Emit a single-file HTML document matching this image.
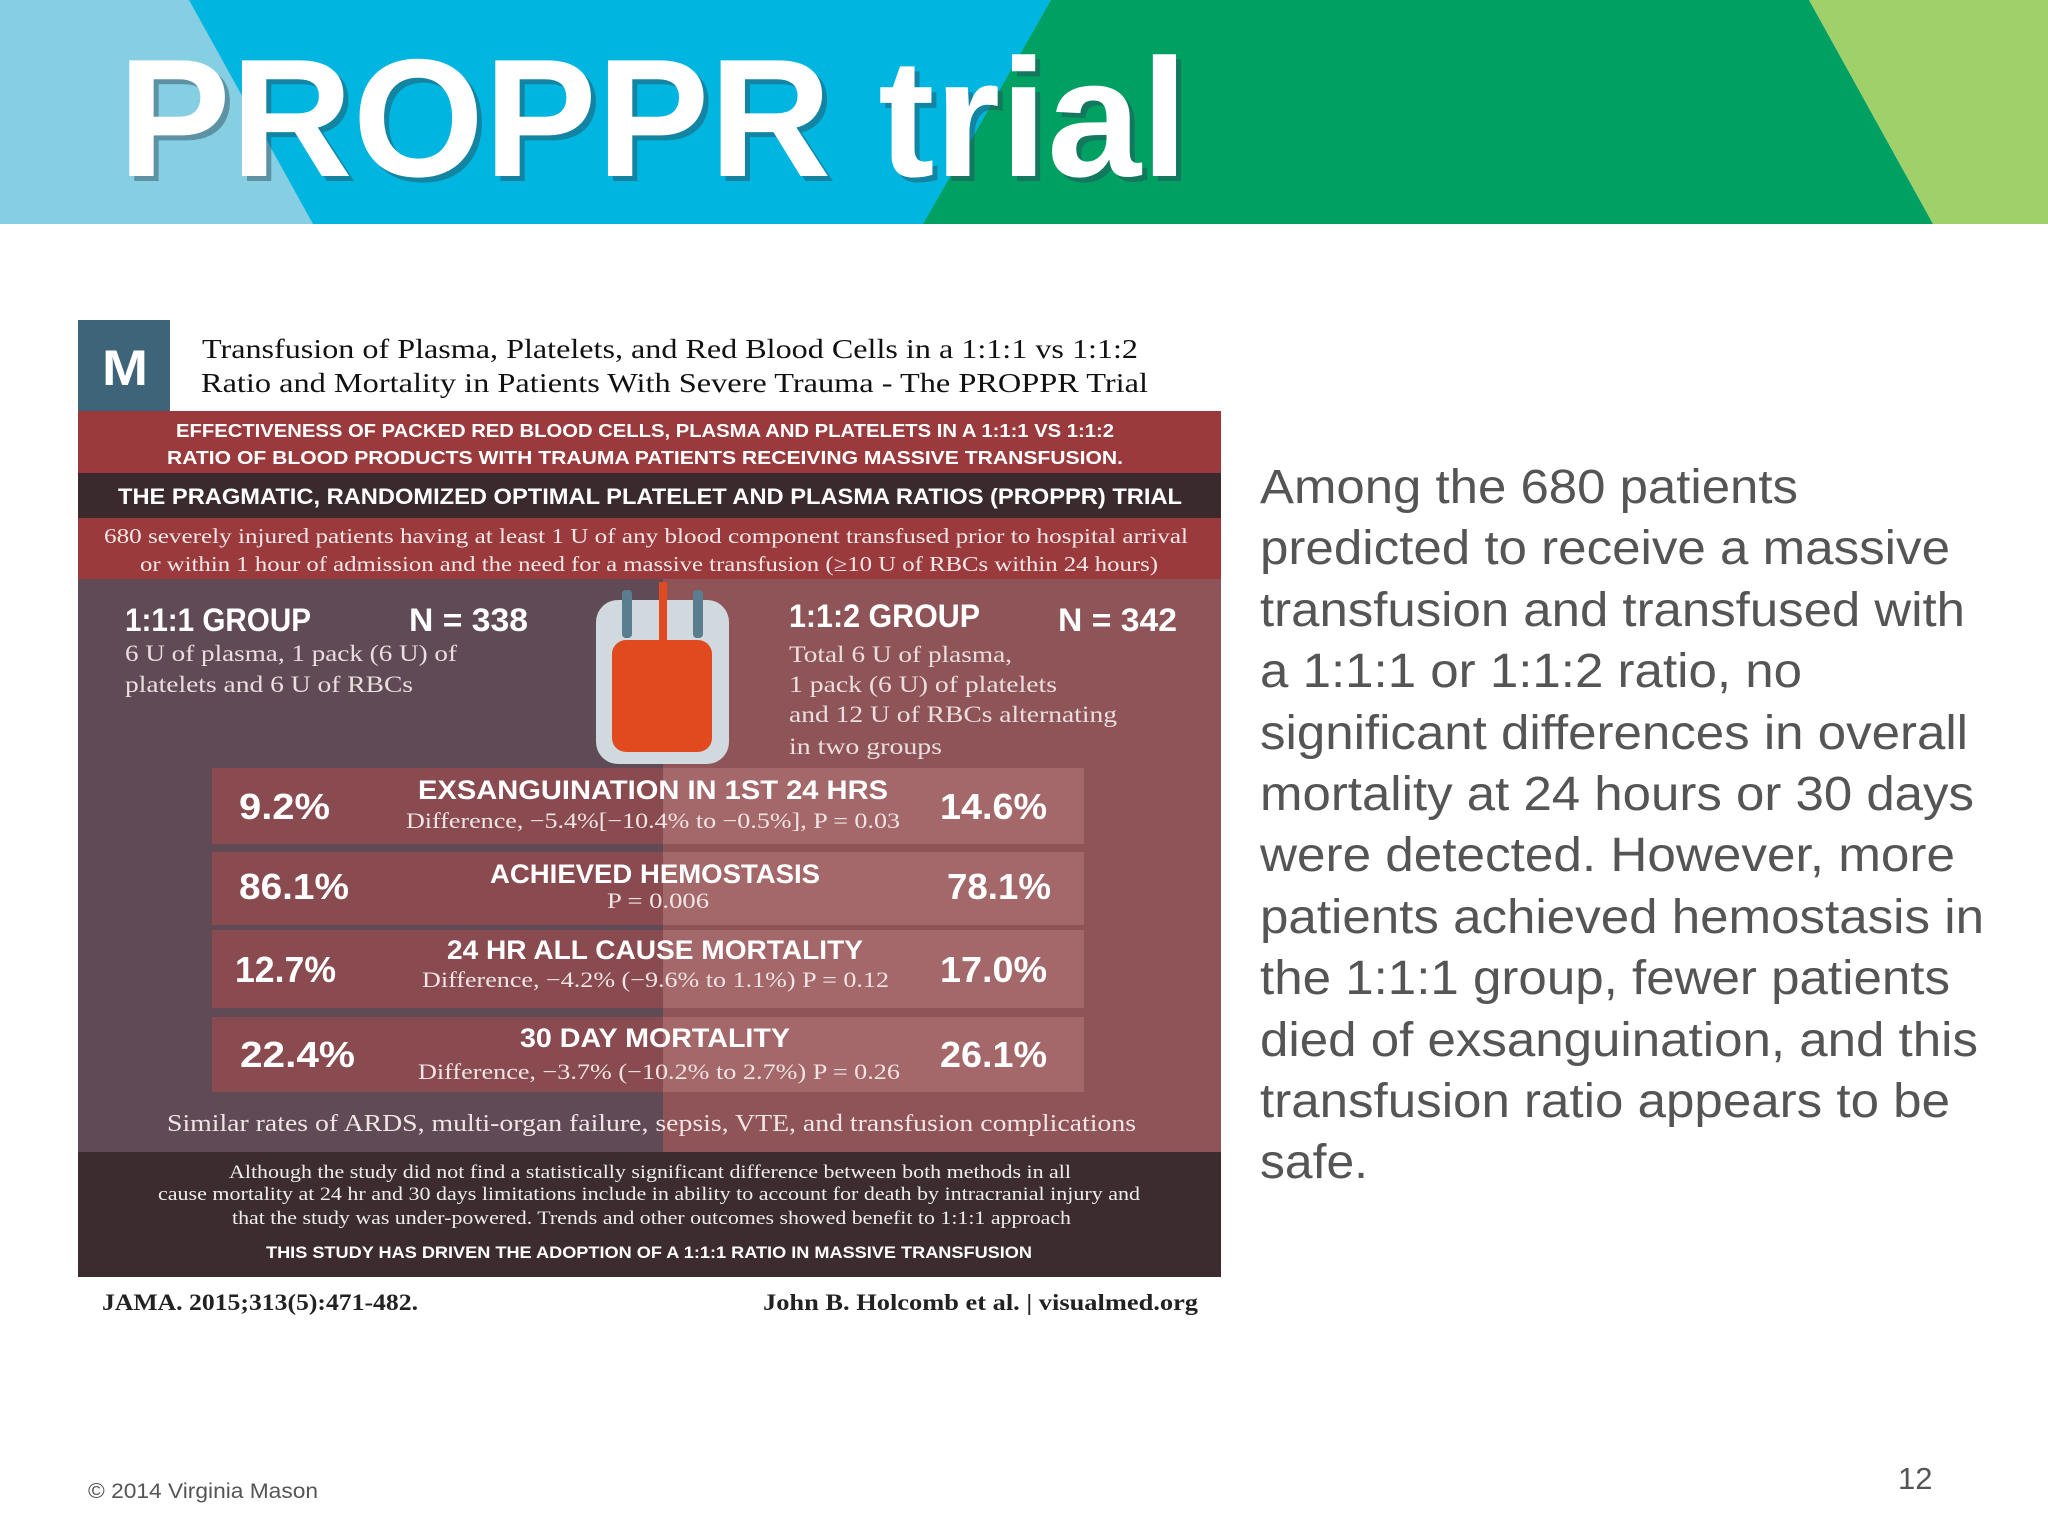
<!DOCTYPE html>
<html><head><meta charset="utf-8"><style>
html,body{margin:0;padding:0;background:#fff;}
svg{display:block;}
.serif{font-family:"Liberation Serif",serif;}
.sans{font-family:"Liberation Sans",sans-serif;}
</style></head><body>
<svg width="2048" height="1536" viewBox="0 0 2048 1536" xmlns="http://www.w3.org/2000/svg">
<g>
<rect x="0" y="0" width="2048" height="224" fill="#86cfe3"/>
<polygon points="189,0 1051,0 923,224 313,224" fill="#00b6e0"/>
<polygon points="1051,0 1809,0 1933,224 923,224" fill="#00a063"/>
<polygon points="1809,0 2048,0 2048,224 1933,224" fill="#a0d06a"/>
</g>
<text x="123" y="181" class="sans" font-weight="bold" font-size="168" fill="#2a4a5a" opacity="0.45" textLength="1070" lengthAdjust="spacingAndGlyphs">PROPPR trial</text>
<text x="118" y="176" class="sans" font-weight="bold" font-size="168" fill="#fff" textLength="1070" lengthAdjust="spacingAndGlyphs">PROPPR trial</text>

<g>
<rect x="78" y="320" width="92" height="91" fill="#3d6478"/>
<text x="102" y="385" class="sans" font-weight="bold" font-size="50" fill="#fff" textLength="46" lengthAdjust="spacingAndGlyphs">M</text>
<g class="serif" font-size="27" fill="#111">
<text x="202" y="358" textLength="936" lengthAdjust="spacingAndGlyphs">Transfusion of Plasma, Platelets, and Red Blood Cells in a 1:1:1 vs 1:1:2</text>
<text x="201" y="392" textLength="947" lengthAdjust="spacingAndGlyphs">Ratio and Mortality in Patients With Severe Trauma - The PROPPR Trial</text>
</g>
<rect x="78" y="411" width="1143" height="62" fill="#9a3a3c"/>
<rect x="78" y="473" width="1143" height="45" fill="#3a2a2e"/>
<rect x="78" y="518" width="1143" height="61" fill="#9a3a3c"/>
<rect x="78" y="579" width="585" height="573" fill="#5f4a56"/>
<rect x="663" y="579" width="558" height="573" fill="#8f5458"/>
<rect x="78" y="1152" width="1143" height="125" fill="#3c2b2f"/>
<g class="sans" font-weight="bold" fill="#fff">
<text x="176" y="437" font-size="18" textLength="938" lengthAdjust="spacingAndGlyphs">EFFECTIVENESS OF PACKED RED BLOOD CELLS, PLASMA AND PLATELETS IN A 1:1:1 VS 1:1:2</text>
<text x="167" y="464" font-size="18" textLength="956" lengthAdjust="spacingAndGlyphs">RATIO OF BLOOD PRODUCTS WITH TRAUMA PATIENTS RECEIVING MASSIVE TRANSFUSION.</text>
<text x="118" y="504" font-size="22" textLength="1064" lengthAdjust="spacingAndGlyphs">THE PRAGMATIC, RANDOMIZED OPTIMAL PLATELET AND PLASMA RATIOS (PROPPR) TRIAL</text>
</g>
<g class="serif" font-size="21" fill="#f3e6e6">
<text x="104" y="543" textLength="1084" lengthAdjust="spacingAndGlyphs">680 severely injured patients  having at least 1 U of any blood component transfused prior to hospital arrival</text>
<text x="140" y="571" textLength="1018" lengthAdjust="spacingAndGlyphs">or within 1 hour of admission and the need for a massive transfusion (≥10 U of RBCs within 24 hours)</text>
</g>
<g>
<rect x="596" y="600" width="133" height="164" rx="22" fill="#cfd9de"/>
<rect x="612" y="640" width="100" height="112" rx="14" fill="#e04a1e"/>
<rect x="659" y="582" width="8" height="120" fill="#e04a1e"/>
<rect x="622" y="590" width="10" height="48" rx="4" fill="#5a7d8f"/>
<rect x="693" y="590" width="10" height="48" rx="4" fill="#5a7d8f"/>
</g>
<g class="sans" font-weight="bold" font-size="32" fill="#fff">
<text x="125" y="631" textLength="186" lengthAdjust="spacingAndGlyphs">1:1:1 GROUP</text>
<text x="409" y="631" textLength="119" lengthAdjust="spacingAndGlyphs">N = 338</text>
<text x="789" y="627" textLength="191" lengthAdjust="spacingAndGlyphs">1:1:2 GROUP</text>
<text x="1058" y="631" textLength="119" lengthAdjust="spacingAndGlyphs">N = 342</text>
</g>
<g class="serif" font-size="23" fill="#eadede">
<text x="125" y="661" textLength="332" lengthAdjust="spacingAndGlyphs">6 U of plasma, 1 pack (6 U) of</text>
<text x="125" y="692" textLength="288" lengthAdjust="spacingAndGlyphs">platelets and 6 U of RBCs</text>
<text x="789" y="662" textLength="223" lengthAdjust="spacingAndGlyphs">Total 6 U of plasma,</text>
<text x="789" y="692" textLength="268" lengthAdjust="spacingAndGlyphs">1 pack (6 U) of platelets</text>
<text x="789" y="722" textLength="328" lengthAdjust="spacingAndGlyphs">and 12 U of RBCs alternating</text>
<text x="789" y="754" textLength="153" lengthAdjust="spacingAndGlyphs">in two groups</text>
</g>
<g>
<rect x="212" y="768" width="451" height="76" fill="#8a4b50"/><rect x="663" y="768" width="421" height="76" fill="#a4686a"/>
<rect x="212" y="852" width="451" height="73" fill="#8a4b50"/><rect x="663" y="852" width="421" height="73" fill="#a4686a"/>
<rect x="212" y="930" width="451" height="78" fill="#8a4b50"/><rect x="663" y="930" width="421" height="78" fill="#a4686a"/>
<rect x="212" y="1017" width="451" height="75" fill="#8a4b50"/><rect x="663" y="1017" width="421" height="75" fill="#a4686a"/>
</g>
<g class="sans" font-weight="bold" font-size="36" fill="#fff">
<text x="239" y="819" textLength="91" lengthAdjust="spacingAndGlyphs">9.2%</text>
<text x="940" y="819" textLength="107" lengthAdjust="spacingAndGlyphs">14.6%</text>
<text x="239" y="899" textLength="110" lengthAdjust="spacingAndGlyphs">86.1%</text>
<text x="947" y="899" textLength="104" lengthAdjust="spacingAndGlyphs">78.1%</text>
<text x="235" y="982" textLength="101" lengthAdjust="spacingAndGlyphs">12.7%</text>
<text x="940" y="982" textLength="107" lengthAdjust="spacingAndGlyphs">17.0%</text>
<text x="240" y="1067" textLength="115" lengthAdjust="spacingAndGlyphs">22.4%</text>
<text x="940" y="1067" textLength="107" lengthAdjust="spacingAndGlyphs">26.1%</text>
</g>
<g class="sans" font-weight="bold" font-size="27" fill="#fff">
<text x="418" y="799" textLength="470" lengthAdjust="spacingAndGlyphs">EXSANGUINATION IN 1ST 24 HRS</text>
<text x="490" y="883" textLength="330" lengthAdjust="spacingAndGlyphs">ACHIEVED HEMOSTASIS</text>
<text x="447" y="959" textLength="416" lengthAdjust="spacingAndGlyphs">24 HR ALL CAUSE MORTALITY</text>
<text x="520" y="1047" textLength="270" lengthAdjust="spacingAndGlyphs">30 DAY MORTALITY</text>
</g>
<g class="serif" font-size="22" fill="#f0e4e4">
<text x="406" y="828" textLength="494" lengthAdjust="spacingAndGlyphs">Difference, −5.4%[−10.4% to −0.5%], P = 0.03</text>
<text x="607" y="908" textLength="102" lengthAdjust="spacingAndGlyphs">P = 0.006</text>
<text x="422" y="987" textLength="467" lengthAdjust="spacingAndGlyphs">Difference, −4.2% (−9.6% to 1.1%) P = 0.12</text>
<text x="418" y="1079" textLength="482" lengthAdjust="spacingAndGlyphs">Difference, −3.7% (−10.2% to 2.7%) P = 0.26</text>
<text x="167" y="1131" font-size="24" textLength="969" lengthAdjust="spacingAndGlyphs">Similar rates of ARDS, multi-organ failure, sepsis, VTE, and transfusion complications</text>
</g>
<g class="serif" font-size="19" fill="#eee">
<text x="229" y="1178" textLength="842" lengthAdjust="spacingAndGlyphs">Although the study did not find a statistically significant difference between both methods in all</text>
<text x="158" y="1200" textLength="982" lengthAdjust="spacingAndGlyphs">cause mortality at 24 hr and 30 days limitations include in ability to account for death by intracranial injury and</text>
<text x="232" y="1224" textLength="839" lengthAdjust="spacingAndGlyphs">that the study was under-powered. Trends and other outcomes showed benefit to 1:1:1 approach</text>
</g>
<text x="266" y="1258" class="sans" font-weight="bold" font-size="17" fill="#fff" textLength="766" lengthAdjust="spacingAndGlyphs">THIS STUDY HAS DRIVEN THE ADOPTION OF A 1:1:1 RATIO IN MASSIVE TRANSFUSION</text>
<g class="serif" font-size="23" fill="#222" font-weight="bold">
<text x="102" y="1310" textLength="316" lengthAdjust="spacingAndGlyphs">JAMA. 2015;313(5):471-482.</text>
<text x="763" y="1310" textLength="435" lengthAdjust="spacingAndGlyphs">John B. Holcomb et al. | visualmed.org</text>
</g>
</g>

<g class="sans" font-size="48" fill="#555">
<text x="1260" y="503" textLength="538" lengthAdjust="spacingAndGlyphs">Among the 680 patients</text>
<text x="1260" y="564" textLength="690" lengthAdjust="spacingAndGlyphs">predicted to receive a massive</text>
<text x="1260" y="626" textLength="705" lengthAdjust="spacingAndGlyphs">transfusion and transfused with</text>
<text x="1260" y="687" textLength="542" lengthAdjust="spacingAndGlyphs">a 1:1:1 or 1:1:2 ratio, no</text>
<text x="1260" y="749" textLength="708" lengthAdjust="spacingAndGlyphs">significant differences in overall</text>
<text x="1260" y="810" textLength="714" lengthAdjust="spacingAndGlyphs">mortality at 24 hours or 30 days</text>
<text x="1260" y="871" textLength="695" lengthAdjust="spacingAndGlyphs">were detected. However, more</text>
<text x="1260" y="933" textLength="724" lengthAdjust="spacingAndGlyphs">patients achieved hemostasis in</text>
<text x="1260" y="994" textLength="690" lengthAdjust="spacingAndGlyphs">the 1:1:1 group, fewer patients</text>
<text x="1260" y="1056" textLength="718" lengthAdjust="spacingAndGlyphs">died of exsanguination, and this</text>
<text x="1260" y="1117" textLength="690" lengthAdjust="spacingAndGlyphs">transfusion ratio appears to be</text>
<text x="1260" y="1178" textLength="108" lengthAdjust="spacingAndGlyphs">safe.</text>
</g>
<text x="88" y="1498" class="sans" font-size="21" fill="#555" textLength="230" lengthAdjust="spacingAndGlyphs">© 2014 Virginia Mason</text>
<text x="1898" y="1489" class="sans" font-size="31" fill="#555">12</text>
</svg>
</body></html>
